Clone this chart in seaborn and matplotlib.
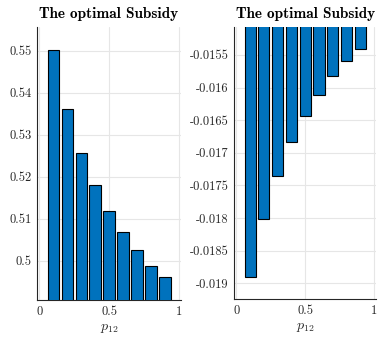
import matplotlib
matplotlib.use("Agg")
import matplotlib.pyplot as plt
import seaborn as sns
import numpy as np

# data
p12 = [0.1, 0.2, 0.3, 0.4, 0.5, 0.6, 0.7, 0.8, 0.9]
subsidy_left = [0.5503, 0.5361, 0.5257, 0.5179, 0.5118, 0.5067, 0.5025, 0.4988, 0.4960]
subsidy_right = [-0.01891, -0.01801, -0.01735, -0.01684, -0.01643, -0.01611,
                 -0.01583, -0.01560, -0.01541]

left_yticks = [0.5, 0.51, 0.52, 0.53, 0.54, 0.55]
left_ylabels = ["0.5", "0.51", "0.52", "0.53", "0.54", "0.55"]
right_yticks = [-0.019, -0.0185, -0.018, -0.0175, -0.017, -0.0165, -0.016, -0.0155]
right_ylabels = ["-0.019", "-0.0185", "-0.018", "-0.0175", "-0.017", "-0.0165", "-0.016", "-0.0155"]
xticks = [0, 0.5, 1]
xlabels = ["0", "0.5", "1"]

sns.set_style("white")
plt.rcParams["font.family"] = ["cmr10"]
plt.rcParams["mathtext.fontset"] = "cm"
plt.rcParams["axes.unicode_minus"] = False
plt.rcParams["text.color"] = "#1a1a1a"
plt.rcParams["xtick.color"] = "#262626"
plt.rcParams["ytick.color"] = "#262626"

blue = "#0072BD"
fig = plt.figure(figsize=(3.82, 3.37), dpi=100)
ax1 = fig.add_axes([0.097, 0.110, 0.377, 0.811])
ax2 = fig.add_axes([0.613, 0.112, 0.372, 0.809])

for ax, vals, yt, yl, ylim in [
    (ax1, subsidy_left, left_yticks, left_ylabels, (0.4906, 0.5558)),
    (ax2, subsidy_right, right_yticks, right_ylabels, (-0.019245, -0.015067)),
]:
    sns.barplot(x=p12, y=vals, native_scale=True, color=blue, saturation=1,
                edgecolor="black", linewidth=0.8, ax=ax, zorder=3)
    ax.set_xlim(-0.015, 1.015)
    ax.set_ylim(*ylim)
    ax.set_xticks(xticks)
    ax.set_xticklabels(xlabels, fontsize=9)
    ax.set_yticks(yt)
    ax.set_yticklabels(yl, fontsize=9)
    ax.grid(True, color="#e6e6e6", linewidth=0.8, zorder=0)
    ax.set_axisbelow(True)
    ax.tick_params(direction="in", length=2, width=0.6, pad=4)
    for s in ["top", "right"]:
        ax.spines[s].set_visible(False)
    for s in ["left", "bottom"]:
        ax.spines[s].set_color("#262626")
        ax.spines[s].set_linewidth(0.8)
    ax.set_xlabel(r"$p_{12}$", fontsize=10, labelpad=3)
    ax.set_ylabel("")
    ax.set_title("The optimal Subsidy", fontfamily="cmb10", fontsize=11,
                 color="black", pad=6)

fig.savefig("out.png", dpi=100)
